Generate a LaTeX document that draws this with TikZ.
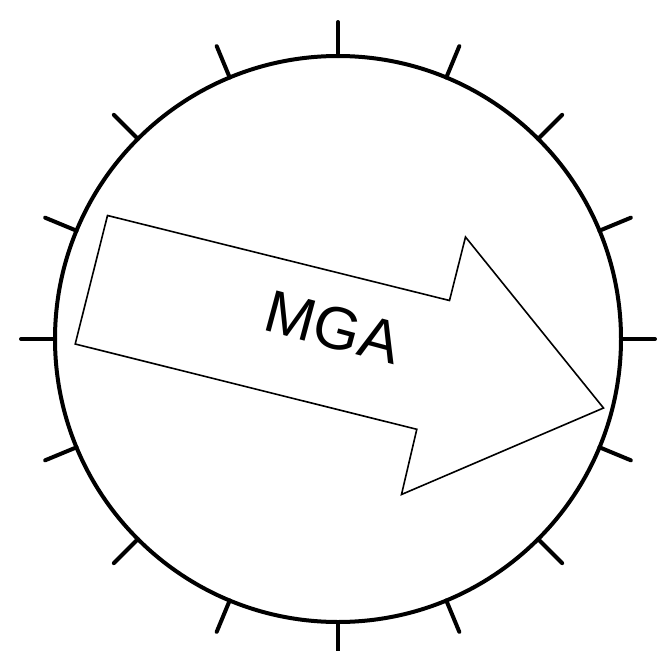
\documentclass[tikz,border=0pt]{standalone}
\usepackage{fontspec}
\setmainfont{Liberation Sans}
\begin{document}
\begin{tikzpicture}[x=1pt,y=-1pt,
  ring/.style={line width=4pt},
  tick/.style={line width=4pt, line cap=round},
  arrowshape/.style={line width=1.6pt, line join=miter},
  label/.style={font=\fontsize{60}{60}\selectfont, inner sep=0pt}]
\useasboundingbox (0,0) rectangle (657,651);
\coordinate (c) at (338,339);
\draw[ring] (c) circle[radius=283];
\foreach \a in {0,22.5,...,337.5}{
  \draw[tick] (c) ++(\a:283) coordinate (i\a) -- ++(\a:34) coordinate (o\a);
}
\coordinate (p1) at (107.5,215.5);
\coordinate (p2) at (449.5,300.5);
\coordinate (p3) at (465.5,237);
\coordinate (p4) at (603.5,408);
\coordinate (p5) at (401.5,494.5);
\coordinate (p6) at (416.8,429.3);
\coordinate (p7) at (75.2,344);
\draw[arrowshape] (p1) -- (p2) -- (p3) -- (p4) -- (p5) -- (p6) -- (p7) -- cycle;
\node[label, rotate=-15] (mga) at (333,327) {MGA};
\end{tikzpicture}
\end{document}
